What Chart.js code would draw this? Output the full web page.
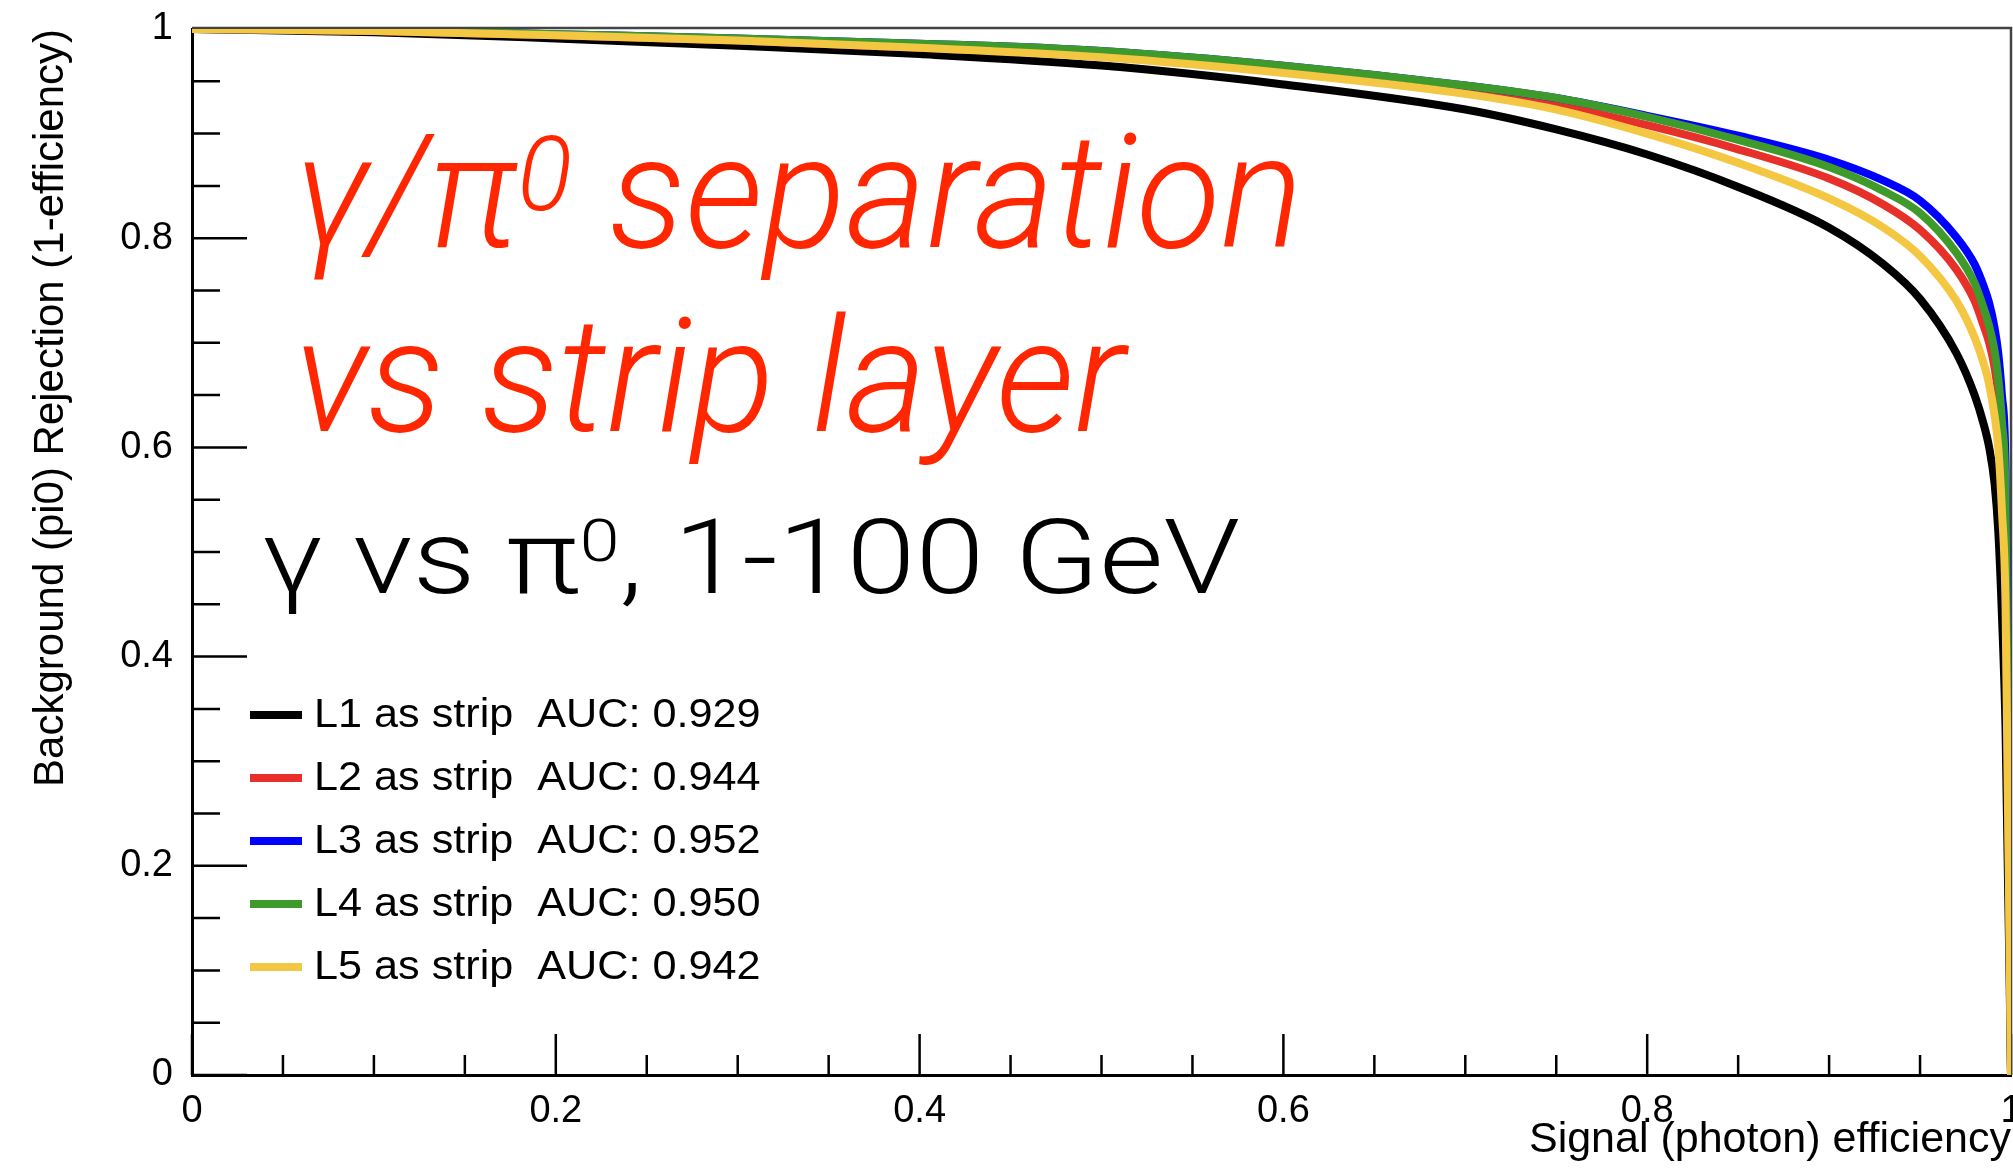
<!DOCTYPE html>
<html>
<head>
<meta charset="utf-8">
<script src="https://cdn.jsdelivr.net/npm/chart.js@4.4.1/dist/chart.umd.min.js"></script>
<style>
  html, body { margin: 0; padding: 0; background: #fff; }
  #roc { display: block; }
</style>
</head>
<body>
<canvas id="roc" width="2013" height="1171"></canvas>
<script>
// signal (photon) efficiency points shared by every curve
const efficiency = [0, 0.1, 0.2, 0.3, 0.4, 0.5, 0.6, 0.7, 0.75, 0.8, 0.85, 0.9, 0.93, 0.95, 0.97, 0.98, 0.985, 0.988, 0.991, 0.993, 0.995, 0.997, 1];

// background (pi0) rejection, one array per strip layer
const rejL1 = [1, 0.997, 0.991, 0.984, 0.976, 0.965, 0.947, 0.923, 0.904, 0.880, 0.849, 0.810, 0.775, 0.742, 0.690, 0.650, 0.622, 0.600, 0.565, 0.52, 0.44, 0.33, 0];
const rejL2 = [1, 0.998, 0.994, 0.989, 0.982, 0.974, 0.959, 0.940, 0.927, 0.908, 0.885, 0.857, 0.832, 0.808, 0.770, 0.740, 0.716, 0.700, 0.676, 0.65, 0.60, 0.50, 0];
const rejL3 = [1, 0.999, 0.995, 0.991, 0.986, 0.979, 0.965, 0.946, 0.934, 0.917, 0.898, 0.875, 0.855, 0.836, 0.801, 0.775, 0.754, 0.738, 0.714, 0.69, 0.65, 0.58, 0];
const rejL4 = [1, 0.999, 0.995, 0.991, 0.986, 0.979, 0.965, 0.946, 0.934, 0.916, 0.894, 0.868, 0.845, 0.824, 0.786, 0.757, 0.733, 0.716, 0.692, 0.666, 0.625, 0.55, 0];
const rejL5 = [1, 0.998, 0.994, 0.989, 0.982, 0.973, 0.958, 0.938, 0.923, 0.900, 0.872, 0.838, 0.810, 0.783, 0.740, 0.705, 0.680, 0.660, 0.630, 0.60, 0.54, 0.45, 0];

const layerNames = ['L1 as strip', 'L2 as strip', 'L3 as strip', 'L4 as strip', 'L5 as strip'];
const aucValues = ['0.929', '0.944', '0.952', '0.950', '0.942'];
const axisTicks = [0, 0.2, 0.4, 0.6, 0.8, 1];

const rejections = [rejL1, rejL2, rejL3, rejL4, rejL5];
const colours = ['#000000', '#e8302a', '#0000ff', '#3f9a2c', '#f4c743'];
const labelFont = '"Liberation Sans", Arial, sans-serif';

// ROOT style: inward ticks on both axes plus the top/right frame
const rootFrame = {
  id: 'rootFrame',
  beforeDatasetsDraw(chart) {
    const { ctx, chartArea: a, scales: { x, y } } = chart;
    ctx.save();
    ctx.strokeStyle = '#000';
    ctx.lineWidth = 2.5;
    ctx.beginPath();
    for (let k = 0; k <= 20; k++) {
      const v = k / 20;
      const major = k % 4 === 0;
      const px = x.getPixelForValue(v);
      ctx.moveTo(px, a.bottom);
      ctx.lineTo(px, a.bottom - (major ? 41 : 20));
      const py = y.getPixelForValue(v);
      ctx.moveTo(a.left, py);
      ctx.lineTo(a.left + (major ? 55 : 28), py);
    }
    ctx.stroke();
    ctx.strokeStyle = '#444';
    ctx.beginPath();
    ctx.moveTo(a.left, a.top - 1);
    ctx.lineTo(a.right, a.top - 1);
    ctx.lineTo(a.right, a.bottom);
    ctx.stroke();
    ctx.restore();
  }
};

// one line of text made of pieces, "sup" pieces are raised and smaller;
// the whole line is squeezed/stretched horizontally to the given width
function drawLine(ctx, parts, x, y, font, supFont, supRise, width) {
  const widthOf = ([text, sup]) => { ctx.font = sup ? supFont : font; return ctx.measureText(text).width; };
  const natural = parts.reduce((s, p) => s + widthOf(p), 0);
  ctx.save();
  ctx.translate(x, y);
  ctx.scale(width ? width / natural : 1, 1);
  let cx = 0;
  parts.forEach((p) => {
    const w = widthOf(p);
    ctx.fillText(p[0], cx, p[1] ? -supRise : 0);
    cx += w;
  });
  ctx.restore();
}

const annotations = {
  id: 'annotations',
  afterDraw(chart) {
    const { ctx } = chart;
    ctx.save();
    ctx.textBaseline = 'alphabetic';
    ctx.textAlign = 'left';

    ctx.fillStyle = '#ff2600';
    const big = 'italic 300 159px Roboto, "Liberation Sans", sans-serif';
    const bigSup = 'italic 300 104px Roboto, "Liberation Sans", sans-serif';
    drawLine(ctx, [['γ/π', false], ['0', true], [' separation', false]], 295, 247, big, bigSup, 37, 1008);
    drawLine(ctx, [['vs strip layer', false]], 295, 431, big, big, 0, 830);

    ctx.fillStyle = '#000';
    const mid = '300 104px Roboto, "Liberation Sans", sans-serif';
    const midSup = '300 60px Roboto, "Liberation Sans", sans-serif';
    drawLine(ctx, [['γ vs π', false], ['0', true], [', 1-100 GeV', false]], 262, 593, mid, midSup, 32, 978);

    // legend rows
    ctx.textBaseline = 'middle';
    const legendFont = '40px ' + labelFont;
    chart.data.datasets.forEach((ds, i) => {
      const yRow = 715 + i * 63;
      ctx.strokeStyle = ds.borderColor;
      ctx.lineWidth = 8;
      ctx.beginPath();
      ctx.moveTo(250, yRow);
      ctx.lineTo(302, yRow);
      ctx.stroke();
      ctx.fillStyle = '#000';
      ctx.save();
      ctx.translate(314, yRow + 1);
      ctx.scale(1.08, 1);
      ctx.font = legendFont;
      ctx.fillText(ds.label, 0, 0);
      ctx.restore();
    });
    ctx.restore();
  }
};

new Chart(document.getElementById('roc'), {
  type: 'line',
  data: {
    datasets: layerNames.map((name, i) => ({
      label: name + '  AUC: ' + aucValues[i],
      data: efficiency.map((e, k) => ({ x: e, y: rejections[i][k] })),
      borderColor: colours[i],
      backgroundColor: colours[i],
      borderWidth: 8,
      pointRadius: 0,
      fill: false,
      cubicInterpolationMode: 'monotone',
      order: 5 - i
    }))
  },
  options: {
    responsive: false,
    animation: false,
    layout: { padding: { top: 29, right: 2, left: 0, bottom: 0 } },
    plugins: { legend: { display: false }, tooltip: { enabled: false } },
    scales: {
      x: {
        type: 'linear',
        min: 0,
        max: 1,
        afterFit(scale) { scale.height = 96; scale.paddingLeft = 0; scale.paddingRight = 0; },
        afterBuildTicks(scale) { scale.ticks = axisTicks.map(v => ({ value: v })); },
        grid: { display: false, drawTicks: false },
        border: { display: true, color: '#000', width: 3 },
        ticks: { padding: 14, color: '#000', font: { family: labelFont, size: 38 }, maxRotation: 0, autoSkip: false, callback: v => String(v) },
        title: { display: true, text: 'Signal (photon) efficiency', align: 'end', color: '#000', font: { family: labelFont, size: 43 }, padding: { top: 0, bottom: 5 } }
      },
      y: {
        type: 'linear',
        min: 0,
        max: 1,
        afterFit(scale) { scale.width = 192; scale.paddingTop = 0; scale.paddingBottom = 0; },
        afterBuildTicks(scale) { scale.ticks = axisTicks.map(v => ({ value: v })); },
        grid: { display: false, drawTicks: false },
        border: { display: true, color: '#000', width: 3 },
        ticks: { padding: 19, color: '#000', font: { family: labelFont, size: 38 }, autoSkip: false, callback: v => String(v) },
        title: { display: true, text: 'Background (pi0) Rejection (1-efficiency)', align: 'end', color: '#000', font: { family: labelFont, size: 42 }, padding: { top: 26, bottom: 0 } }
      }
    }
  },
  plugins: [rootFrame, annotations]
});
</script>
</body>
</html>
